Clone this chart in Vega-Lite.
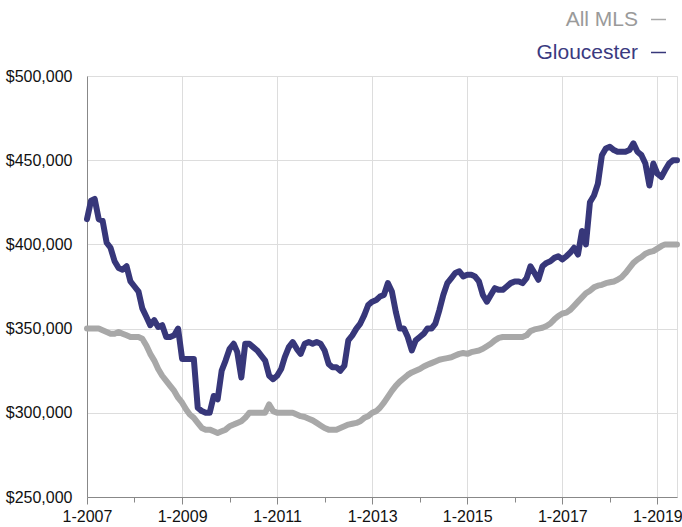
{
  "$schema": "https://vega.github.io/schema/vega-lite/v6.json",
  "width": 590,
  "height": 421,
  "autosize": {"type": "none"},
  "padding": {"left": 87, "top": 76, "right": 5, "bottom": 30},
  "background": "white",
  "config": {
    "view": {"stroke": "#dddddd"},
    "font": "Liberation Sans",
    "axis": {"domainColor": "#888888", "labelFont": "Liberation Sans", "labelColor": "#111111", "gridColor": "#dddddd", "gridWidth": 1}
  },
  "data": {"values": [
    {"date":"2007-01-01","series":"All MLS","value":350000},{"date":"2007-02-01","series":"All MLS","value":350000},{"date":"2007-03-01","series":"All MLS","value":350000},{"date":"2007-04-01","series":"All MLS","value":350000},{"date":"2007-05-01","series":"All MLS","value":349000},{"date":"2007-06-01","series":"All MLS","value":348000},{"date":"2007-07-01","series":"All MLS","value":347000},{"date":"2007-08-01","series":"All MLS","value":347000},{"date":"2007-09-01","series":"All MLS","value":348000},{"date":"2007-10-01","series":"All MLS","value":347000},{"date":"2007-11-01","series":"All MLS","value":346000},{"date":"2007-12-01","series":"All MLS","value":345000},
    {"date":"2008-01-01","series":"All MLS","value":345000},{"date":"2008-02-01","series":"All MLS","value":345000},{"date":"2008-03-01","series":"All MLS","value":344000},{"date":"2008-04-01","series":"All MLS","value":340000},{"date":"2008-05-01","series":"All MLS","value":335000},{"date":"2008-06-01","series":"All MLS","value":331000},{"date":"2008-07-01","series":"All MLS","value":326000},{"date":"2008-08-01","series":"All MLS","value":322000},{"date":"2008-09-01","series":"All MLS","value":319000},{"date":"2008-10-01","series":"All MLS","value":316000},{"date":"2008-11-01","series":"All MLS","value":313000},{"date":"2008-12-01","series":"All MLS","value":309000},
    {"date":"2009-01-01","series":"All MLS","value":306000},{"date":"2009-02-01","series":"All MLS","value":302000},{"date":"2009-03-01","series":"All MLS","value":299000},{"date":"2009-04-01","series":"All MLS","value":297000},{"date":"2009-05-01","series":"All MLS","value":294000},{"date":"2009-06-01","series":"All MLS","value":291000},{"date":"2009-07-01","series":"All MLS","value":290000},{"date":"2009-08-01","series":"All MLS","value":290000},{"date":"2009-09-01","series":"All MLS","value":289000},{"date":"2009-10-01","series":"All MLS","value":288000},{"date":"2009-11-01","series":"All MLS","value":289000},{"date":"2009-12-01","series":"All MLS","value":290000},
    {"date":"2010-01-01","series":"All MLS","value":292000},{"date":"2010-02-01","series":"All MLS","value":293000},{"date":"2010-03-01","series":"All MLS","value":294000},{"date":"2010-04-01","series":"All MLS","value":295000},{"date":"2010-05-01","series":"All MLS","value":297000},{"date":"2010-06-01","series":"All MLS","value":300000},{"date":"2010-07-01","series":"All MLS","value":300000},{"date":"2010-08-01","series":"All MLS","value":300000},{"date":"2010-09-01","series":"All MLS","value":300000},{"date":"2010-10-01","series":"All MLS","value":300000},{"date":"2010-11-01","series":"All MLS","value":305000},{"date":"2010-12-01","series":"All MLS","value":301000},
    {"date":"2011-01-01","series":"All MLS","value":300000},{"date":"2011-02-01","series":"All MLS","value":300000},{"date":"2011-03-01","series":"All MLS","value":300000},{"date":"2011-04-01","series":"All MLS","value":300000},{"date":"2011-05-01","series":"All MLS","value":300000},{"date":"2011-06-01","series":"All MLS","value":299000},{"date":"2011-07-01","series":"All MLS","value":298000},{"date":"2011-08-01","series":"All MLS","value":297500},{"date":"2011-09-01","series":"All MLS","value":296500},{"date":"2011-10-01","series":"All MLS","value":295500},{"date":"2011-11-01","series":"All MLS","value":294000},{"date":"2011-12-01","series":"All MLS","value":292500},
    {"date":"2012-01-01","series":"All MLS","value":291000},{"date":"2012-02-01","series":"All MLS","value":290000},{"date":"2012-03-01","series":"All MLS","value":290000},{"date":"2012-04-01","series":"All MLS","value":290000},{"date":"2012-05-01","series":"All MLS","value":291000},{"date":"2012-06-01","series":"All MLS","value":292000},{"date":"2012-07-01","series":"All MLS","value":293000},{"date":"2012-08-01","series":"All MLS","value":293500},{"date":"2012-09-01","series":"All MLS","value":294000},{"date":"2012-10-01","series":"All MLS","value":295000},{"date":"2012-11-01","series":"All MLS","value":297000},{"date":"2012-12-01","series":"All MLS","value":298000},
    {"date":"2013-01-01","series":"All MLS","value":300000},{"date":"2013-02-01","series":"All MLS","value":301000},{"date":"2013-03-01","series":"All MLS","value":303000},{"date":"2013-04-01","series":"All MLS","value":306000},{"date":"2013-05-01","series":"All MLS","value":309500},{"date":"2013-06-01","series":"All MLS","value":313000},{"date":"2013-07-01","series":"All MLS","value":316000},{"date":"2013-08-01","series":"All MLS","value":318500},{"date":"2013-09-01","series":"All MLS","value":320500},{"date":"2013-10-01","series":"All MLS","value":322500},{"date":"2013-11-01","series":"All MLS","value":324000},{"date":"2013-12-01","series":"All MLS","value":325000},
    {"date":"2014-01-01","series":"All MLS","value":326000},{"date":"2014-02-01","series":"All MLS","value":327500},{"date":"2014-03-01","series":"All MLS","value":328500},{"date":"2014-04-01","series":"All MLS","value":329500},{"date":"2014-05-01","series":"All MLS","value":330500},{"date":"2014-06-01","series":"All MLS","value":331500},{"date":"2014-07-01","series":"All MLS","value":332000},{"date":"2014-08-01","series":"All MLS","value":332500},{"date":"2014-09-01","series":"All MLS","value":333000},{"date":"2014-10-01","series":"All MLS","value":334000},{"date":"2014-11-01","series":"All MLS","value":335000},{"date":"2014-12-01","series":"All MLS","value":335500},
    {"date":"2015-01-01","series":"All MLS","value":335000},{"date":"2015-02-01","series":"All MLS","value":336000},{"date":"2015-03-01","series":"All MLS","value":336500},{"date":"2015-04-01","series":"All MLS","value":337000},{"date":"2015-05-01","series":"All MLS","value":338000},{"date":"2015-06-01","series":"All MLS","value":339500},{"date":"2015-07-01","series":"All MLS","value":341000},{"date":"2015-08-01","series":"All MLS","value":343000},{"date":"2015-09-01","series":"All MLS","value":344500},{"date":"2015-10-01","series":"All MLS","value":345000},{"date":"2015-11-01","series":"All MLS","value":345000},{"date":"2015-12-01","series":"All MLS","value":345000},
    {"date":"2016-01-01","series":"All MLS","value":345000},{"date":"2016-02-01","series":"All MLS","value":345000},{"date":"2016-03-01","series":"All MLS","value":345000},{"date":"2016-04-01","series":"All MLS","value":346000},{"date":"2016-05-01","series":"All MLS","value":348500},{"date":"2016-06-01","series":"All MLS","value":349500},{"date":"2016-07-01","series":"All MLS","value":350000},{"date":"2016-08-01","series":"All MLS","value":350500},{"date":"2016-09-01","series":"All MLS","value":351500},{"date":"2016-10-01","series":"All MLS","value":353000},{"date":"2016-11-01","series":"All MLS","value":355500},{"date":"2016-12-01","series":"All MLS","value":357500},
    {"date":"2017-01-01","series":"All MLS","value":359000},{"date":"2017-02-01","series":"All MLS","value":359500},{"date":"2017-03-01","series":"All MLS","value":361000},{"date":"2017-04-01","series":"All MLS","value":363500},{"date":"2017-05-01","series":"All MLS","value":366000},{"date":"2017-06-01","series":"All MLS","value":368500},{"date":"2017-07-01","series":"All MLS","value":371000},{"date":"2017-08-01","series":"All MLS","value":372500},{"date":"2017-09-01","series":"All MLS","value":374500},{"date":"2017-10-01","series":"All MLS","value":375500},{"date":"2017-11-01","series":"All MLS","value":376000},{"date":"2017-12-01","series":"All MLS","value":377000},
    {"date":"2018-01-01","series":"All MLS","value":377500},{"date":"2018-02-01","series":"All MLS","value":378000},{"date":"2018-03-01","series":"All MLS","value":379000},{"date":"2018-04-01","series":"All MLS","value":380500},{"date":"2018-05-01","series":"All MLS","value":383000},{"date":"2018-06-01","series":"All MLS","value":386000},{"date":"2018-07-01","series":"All MLS","value":389000},{"date":"2018-08-01","series":"All MLS","value":391000},{"date":"2018-09-01","series":"All MLS","value":392500},{"date":"2018-10-01","series":"All MLS","value":394500},{"date":"2018-11-01","series":"All MLS","value":395500},{"date":"2018-12-01","series":"All MLS","value":396000},
    {"date":"2019-01-01","series":"All MLS","value":397500},{"date":"2019-02-01","series":"All MLS","value":399000},{"date":"2019-03-01","series":"All MLS","value":400000},{"date":"2019-04-01","series":"All MLS","value":400000},{"date":"2019-05-01","series":"All MLS","value":400000},{"date":"2019-06-01","series":"All MLS","value":400000},
    {"date":"2007-01-01","series":"Gloucester","value":415000},{"date":"2007-02-01","series":"Gloucester","value":426000},{"date":"2007-03-01","series":"Gloucester","value":427000},{"date":"2007-04-01","series":"Gloucester","value":415000},{"date":"2007-05-01","series":"Gloucester","value":414000},{"date":"2007-06-01","series":"Gloucester","value":401000},{"date":"2007-07-01","series":"Gloucester","value":398000},{"date":"2007-08-01","series":"Gloucester","value":390000},{"date":"2007-09-01","series":"Gloucester","value":386000},{"date":"2007-10-01","series":"Gloucester","value":385000},{"date":"2007-11-01","series":"Gloucester","value":387000},{"date":"2007-12-01","series":"Gloucester","value":378000},
    {"date":"2008-01-01","series":"Gloucester","value":375000},{"date":"2008-02-01","series":"Gloucester","value":372000},{"date":"2008-03-01","series":"Gloucester","value":362000},{"date":"2008-04-01","series":"Gloucester","value":357000},{"date":"2008-05-01","series":"Gloucester","value":352000},{"date":"2008-06-01","series":"Gloucester","value":355000},{"date":"2008-07-01","series":"Gloucester","value":351000},{"date":"2008-08-01","series":"Gloucester","value":352000},{"date":"2008-09-01","series":"Gloucester","value":345000},{"date":"2008-10-01","series":"Gloucester","value":345000},{"date":"2008-11-01","series":"Gloucester","value":346000},{"date":"2008-12-01","series":"Gloucester","value":350000},
    {"date":"2009-01-01","series":"Gloucester","value":332000},{"date":"2009-02-01","series":"Gloucester","value":332000},{"date":"2009-03-01","series":"Gloucester","value":332000},{"date":"2009-04-01","series":"Gloucester","value":332000},{"date":"2009-05-01","series":"Gloucester","value":303000},{"date":"2009-06-01","series":"Gloucester","value":301000},{"date":"2009-07-01","series":"Gloucester","value":300000},{"date":"2009-08-01","series":"Gloucester","value":300000},{"date":"2009-09-01","series":"Gloucester","value":310000},{"date":"2009-10-01","series":"Gloucester","value":308000},{"date":"2009-11-01","series":"Gloucester","value":325000},{"date":"2009-12-01","series":"Gloucester","value":331000},
    {"date":"2010-01-01","series":"Gloucester","value":338000},{"date":"2010-02-01","series":"Gloucester","value":341000},{"date":"2010-03-01","series":"Gloucester","value":336000},{"date":"2010-04-01","series":"Gloucester","value":321000},{"date":"2010-05-01","series":"Gloucester","value":341000},{"date":"2010-06-01","series":"Gloucester","value":341000},{"date":"2010-07-01","series":"Gloucester","value":339000},{"date":"2010-08-01","series":"Gloucester","value":337000},{"date":"2010-09-01","series":"Gloucester","value":334000},{"date":"2010-10-01","series":"Gloucester","value":331000},{"date":"2010-11-01","series":"Gloucester","value":322000},{"date":"2010-12-01","series":"Gloucester","value":320000},
    {"date":"2011-01-01","series":"Gloucester","value":322000},{"date":"2011-02-01","series":"Gloucester","value":326000},{"date":"2011-03-01","series":"Gloucester","value":333000},{"date":"2011-04-01","series":"Gloucester","value":339000},{"date":"2011-05-01","series":"Gloucester","value":342000},{"date":"2011-06-01","series":"Gloucester","value":338000},{"date":"2011-07-01","series":"Gloucester","value":335000},{"date":"2011-08-01","series":"Gloucester","value":341000},{"date":"2011-09-01","series":"Gloucester","value":342000},{"date":"2011-10-01","series":"Gloucester","value":341000},{"date":"2011-11-01","series":"Gloucester","value":342000},{"date":"2011-12-01","series":"Gloucester","value":341000},
    {"date":"2012-01-01","series":"Gloucester","value":337000},{"date":"2012-02-01","series":"Gloucester","value":329000},{"date":"2012-03-01","series":"Gloucester","value":327000},{"date":"2012-04-01","series":"Gloucester","value":327000},{"date":"2012-05-01","series":"Gloucester","value":325000},{"date":"2012-06-01","series":"Gloucester","value":328000},{"date":"2012-07-01","series":"Gloucester","value":343000},{"date":"2012-08-01","series":"Gloucester","value":346000},{"date":"2012-09-01","series":"Gloucester","value":350000},{"date":"2012-10-01","series":"Gloucester","value":353000},{"date":"2012-11-01","series":"Gloucester","value":358000},{"date":"2012-12-01","series":"Gloucester","value":364000},
    {"date":"2013-01-01","series":"Gloucester","value":366000},{"date":"2013-02-01","series":"Gloucester","value":367000},{"date":"2013-03-01","series":"Gloucester","value":369000},{"date":"2013-04-01","series":"Gloucester","value":370000},{"date":"2013-05-01","series":"Gloucester","value":377000},{"date":"2013-06-01","series":"Gloucester","value":372000},{"date":"2013-07-01","series":"Gloucester","value":360000},{"date":"2013-08-01","series":"Gloucester","value":350000},{"date":"2013-09-01","series":"Gloucester","value":350000},{"date":"2013-10-01","series":"Gloucester","value":345000},{"date":"2013-11-01","series":"Gloucester","value":337000},{"date":"2013-12-01","series":"Gloucester","value":343000},
    {"date":"2014-01-01","series":"Gloucester","value":345000},{"date":"2014-02-01","series":"Gloucester","value":347000},{"date":"2014-03-01","series":"Gloucester","value":350000},{"date":"2014-04-01","series":"Gloucester","value":350000},{"date":"2014-05-01","series":"Gloucester","value":353000},{"date":"2014-06-01","series":"Gloucester","value":361000},{"date":"2014-07-01","series":"Gloucester","value":370000},{"date":"2014-08-01","series":"Gloucester","value":377000},{"date":"2014-09-01","series":"Gloucester","value":380000},{"date":"2014-10-01","series":"Gloucester","value":383000},{"date":"2014-11-01","series":"Gloucester","value":384000},{"date":"2014-12-01","series":"Gloucester","value":381000},
    {"date":"2015-01-01","series":"Gloucester","value":382000},{"date":"2015-02-01","series":"Gloucester","value":382000},{"date":"2015-03-01","series":"Gloucester","value":381000},{"date":"2015-04-01","series":"Gloucester","value":378000},{"date":"2015-05-01","series":"Gloucester","value":370000},{"date":"2015-06-01","series":"Gloucester","value":366000},{"date":"2015-07-01","series":"Gloucester","value":370000},{"date":"2015-08-01","series":"Gloucester","value":374000},{"date":"2015-09-01","series":"Gloucester","value":373000},{"date":"2015-10-01","series":"Gloucester","value":373000},{"date":"2015-11-01","series":"Gloucester","value":375000},{"date":"2015-12-01","series":"Gloucester","value":377000},
    {"date":"2016-01-01","series":"Gloucester","value":378000},{"date":"2016-02-01","series":"Gloucester","value":378000},{"date":"2016-03-01","series":"Gloucester","value":377000},{"date":"2016-04-01","series":"Gloucester","value":380000},{"date":"2016-05-01","series":"Gloucester","value":387000},{"date":"2016-06-01","series":"Gloucester","value":383000},{"date":"2016-07-01","series":"Gloucester","value":379000},{"date":"2016-08-01","series":"Gloucester","value":387000},{"date":"2016-09-01","series":"Gloucester","value":389000},{"date":"2016-10-01","series":"Gloucester","value":390000},{"date":"2016-11-01","series":"Gloucester","value":392000},{"date":"2016-12-01","series":"Gloucester","value":393000},
    {"date":"2017-01-01","series":"Gloucester","value":391000},{"date":"2017-02-01","series":"Gloucester","value":393000},{"date":"2017-03-01","series":"Gloucester","value":395000},{"date":"2017-04-01","series":"Gloucester","value":398000},{"date":"2017-05-01","series":"Gloucester","value":394000},{"date":"2017-06-01","series":"Gloucester","value":408000},{"date":"2017-07-01","series":"Gloucester","value":400000},{"date":"2017-08-01","series":"Gloucester","value":425000},{"date":"2017-09-01","series":"Gloucester","value":429000},{"date":"2017-10-01","series":"Gloucester","value":436000},{"date":"2017-11-01","series":"Gloucester","value":453000},{"date":"2017-12-01","series":"Gloucester","value":457000},
    {"date":"2018-01-01","series":"Gloucester","value":458000},{"date":"2018-02-01","series":"Gloucester","value":456000},{"date":"2018-03-01","series":"Gloucester","value":455000},{"date":"2018-04-01","series":"Gloucester","value":455000},{"date":"2018-05-01","series":"Gloucester","value":455000},{"date":"2018-06-01","series":"Gloucester","value":456000},{"date":"2018-07-01","series":"Gloucester","value":460000},{"date":"2018-08-01","series":"Gloucester","value":455000},{"date":"2018-09-01","series":"Gloucester","value":453000},{"date":"2018-10-01","series":"Gloucester","value":448000},{"date":"2018-11-01","series":"Gloucester","value":435000},{"date":"2018-12-01","series":"Gloucester","value":448000},
    {"date":"2019-01-01","series":"Gloucester","value":442000},{"date":"2019-02-01","series":"Gloucester","value":440000},{"date":"2019-03-01","series":"Gloucester","value":444000},{"date":"2019-04-01","series":"Gloucester","value":448000},{"date":"2019-05-01","series":"Gloucester","value":450000},{"date":"2019-06-01","series":"Gloucester","value":450000}
  ]},
  "mark": {"type": "line", "strokeWidth": 6, "strokeJoin": "round", "strokeCap": "round"},
  "encoding": {
    "x": {
      "field": "date", "type": "temporal",
      "scale": {"type": "utc", "domain": [{"year": 2007, "month": 1, "date": 1, "utc": true}, {"year": 2019, "month": 6, "date": 1, "utc": true}]},
      "axis": {
        "title": null,
        "values": [
          {"year": 2007, "month": 1, "date": 1, "utc": true}, {"year": 2008, "month": 1, "date": 1, "utc": true},
          {"year": 2009, "month": 1, "date": 1, "utc": true}, {"year": 2010, "month": 1, "date": 1, "utc": true},
          {"year": 2011, "month": 1, "date": 1, "utc": true}, {"year": 2012, "month": 1, "date": 1, "utc": true},
          {"year": 2013, "month": 1, "date": 1, "utc": true}, {"year": 2014, "month": 1, "date": 1, "utc": true},
          {"year": 2015, "month": 1, "date": 1, "utc": true}, {"year": 2016, "month": 1, "date": 1, "utc": true},
          {"year": 2017, "month": 1, "date": 1, "utc": true}, {"year": 2018, "month": 1, "date": 1, "utc": true},
          {"year": 2019, "month": 1, "date": 1, "utc": true}
        ],
        "labelExpr": "utcyear(datum.value) % 2 == 1 ? '1-' + utcyear(datum.value) : ''",
        "labelFlush": false,
        "labelOverlap": false,
        "labelBound": false,
        "labelFontSize": 16,
        "labelPadding": 4,
        "grid": true,
        "gridColor": {"condition": {"test": "utcyear(datum.value) % 2 == 1", "value": "#dddddd"}, "value": "rgba(0,0,0,0)"},
        "tickColor": "#888888",
        "tickSize": {"condition": {"test": "utcyear(datum.value) % 2 == 1", "value": 7}, "value": 5}
      }
    },
    "y": {
      "field": "value", "type": "quantitative",
      "scale": {"domain": [250000, 500000], "nice": false, "zero": false},
      "axis": {
        "title": null,
        "values": [250000, 300000, 350000, 400000, 450000, 500000],
        "format": "$,.0f",
        "tickSize": 0,
        "labelPadding": 15,
        "labelFontSize": 16
      }
    },
    "color": {
      "field": "series", "type": "nominal",
      "scale": {"domain": ["All MLS", "Gloucester"], "range": ["#a8a8a8", "#37377a"]},
      "legend": {
        "orient": "none",
        "legendX": 561,
        "legendY": -67,
        "direction": "vertical",
        "title": null,
        "padding": 0,
        "symbolType": "stroke",
        "symbolSize": 225,
        "symbolStrokeWidth": 1.5,
        "labelFontSize": 21,
        "labelFont": "Liberation Sans",
        "labelAlign": "right",
        "labelOffset": -31,
        "labelLimit": 300,
        "rowPadding": 11,
        "encoding": {"labels": {"fill": {"condition": {"test": "datum.value == 'All MLS'", "value": "#9a9a9a"}, "value": "#3a3a80"}}}
      }
    }
  }
}
